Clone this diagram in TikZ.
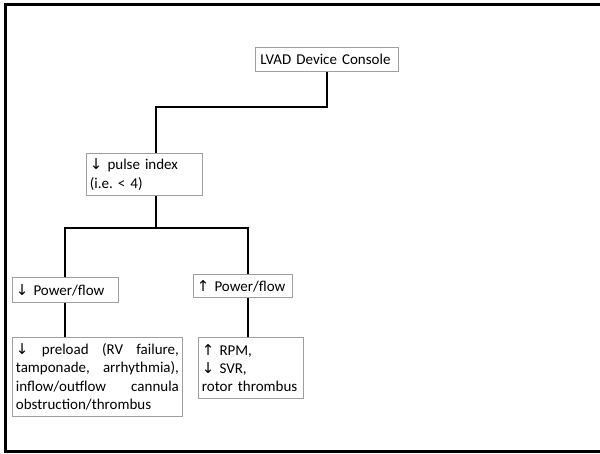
\documentclass[tikz,border=0pt]{standalone}
\usepackage{fontspec}
\setmainfont{Carlito}
\newfontfamily\arrowfont{DejaVu Sans}
\newcommand{\arrdown}{{\arrowfont\char"2193}}
\newcommand{\arrup}{{\arrowfont\char"2191}}
\newcommand{\preline}[1]{\makebox[163pt][s]{#1}}
\newcommand{\boxfont}{\fontsize{15}{18.3}\selectfont\hyphenpenalty10000\relax}

\tikzset{
  box/.style={draw=gray!75, line width=0.9pt, anchor=north west, align=left,
    inner xsep=3.5pt, inner ysep=1pt, font=\boxfont},
  link/.style={line width=2pt},
}

\begin{document}
\begin{tikzpicture}[x=1pt,y=-1pt]
  \useasboundingbox (0,0) rectangle (600,453);
  % outer frame
  \begin{scope}
    \clip (0,0) rectangle (600,453);
    \draw[line width=3pt] (5,4) rectangle (620,451);
  \end{scope}

  % boxes
  \node[box, text width=133pt, minimum height=24pt, inner xsep=5pt] (console) at (255,47) {LVAD Device Console};
  \node[box, text width=109pt, minimum height=42pt] (pulse) at (86,153) {\arrdown{} pulse index\\(i.e.\ < 4)};
  \node[box, text width=99pt, minimum height=25pt] (pdown) at (12,277) {\arrdown{} Power/flow};
  \node[box, text width=92pt, minimum height=23pt] (pup) at (193,274) {\arrup{} Power/flow};
  \node[box, text width=163pt, minimum height=79pt] (preload) at (12,337)
    {\preline{\arrdown{}\hfil{} preload\hfil{} (RV\hfil{} failure,}\\
     \preline{tamponade,\hfil{} arrhythmia),}\\
     \preline{inflow/outflow\hfil{} cannula}\\
     obstruction/thrombus};
  \node[box, text width=98pt, minimum height=61pt] (rpm) at (198,337)
    {\arrup{} RPM,\\\arrdown{} SVR,\\rotor thrombus};

  % connectors
  \coordinate (b1) at (156,107);
  \coordinate (b2) at (156,228);
  \coordinate (bl) at (65,228);
  \coordinate (br) at (248,228);
  \draw[link] (console.south) |- (b1) -- (b1 |- pulse.north);
  \draw[link] (b2 |- pulse.south) -- (b2);
  \draw[link] (bl |- pdown.north) -- (bl) -- (br) -- (br |- pup.north);
  \draw[link] (bl |- pdown.south) -- (bl |- preload.north);
  \draw[link] (br |- pup.south) -- (br |- rpm.north);
\end{tikzpicture}
\end{document}
